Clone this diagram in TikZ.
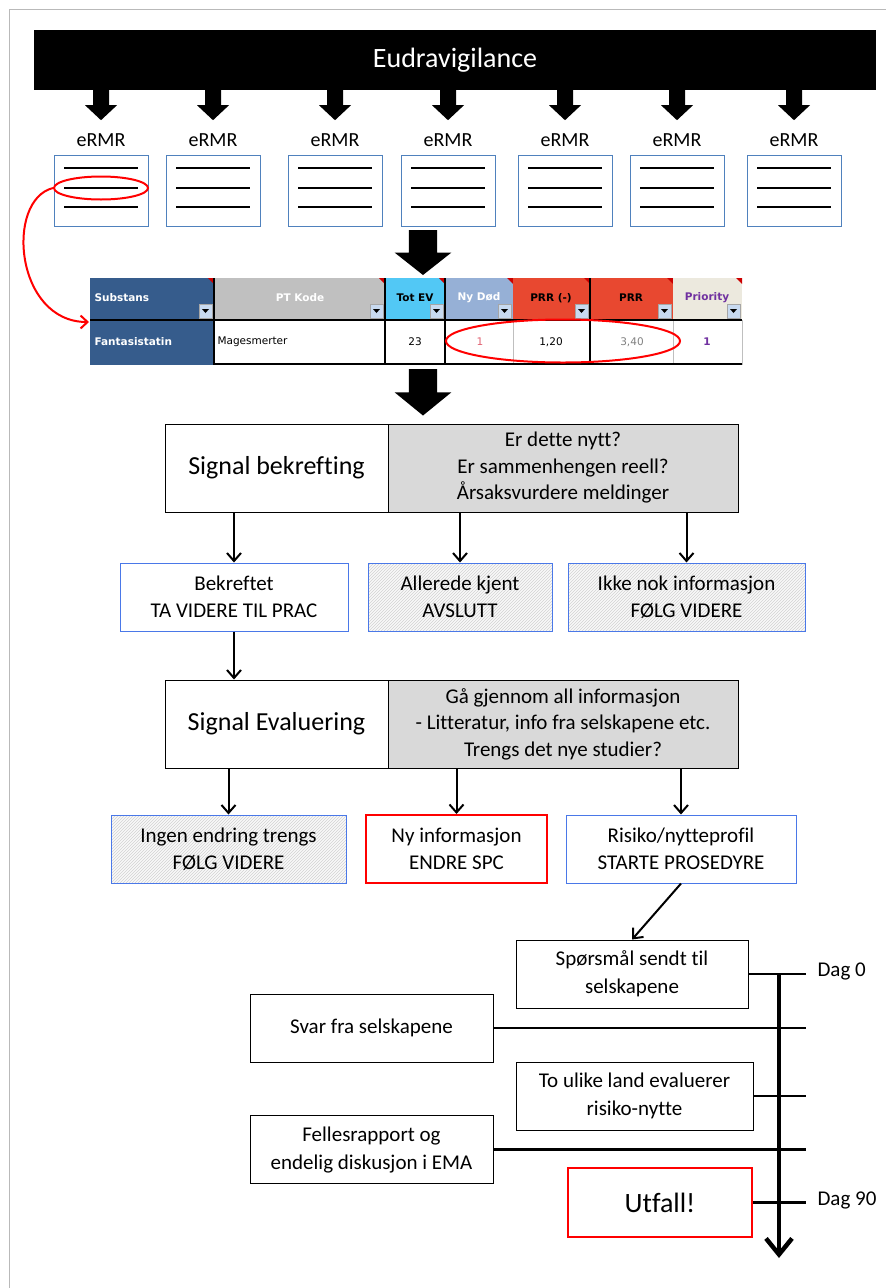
\documentclass[tikz,border=0pt]{standalone}
\usepackage{fontspec}
\setmainfont{Carlito}[Ligatures=NoCommon]
\newfontfamily\xlsfont{DejaVu Sans}
\usetikzlibrary{arrows.meta,patterns,shapes.geometric}

\definecolor{docblue}{RGB}{79,129,189}
\definecolor{boxblue}{RGB}{74,120,232}
\definecolor{qgray}{RGB}{217,217,217}
\definecolor{framegray}{RGB}{185,185,185}
\definecolor{xlsnavy}{RGB}{54,92,140}
\definecolor{xlsgray}{RGB}{192,192,192}
\definecolor{xlscyan}{RGB}{82,200,245}
\definecolor{xlsblue}{RGB}{150,176,214}
\definecolor{xlsred}{RGB}{232,72,48}
\definecolor{xlscream}{RGB}{236,233,222}
\definecolor{xlspurple}{RGB}{112,48,160}
\definecolor{xlspink}{RGB}{224,96,112}
\definecolor{ddblue}{RGB}{200,218,240}

\tikzset{
  banner/.style={fill=black, text=white, minimum width=842pt, minimum height=60pt,
    font=\fontsize{28}{32}\selectfont},
  blkarrow/.pic={\fill (-8,0) -- (-8,15) -- (-16,15) -- (0,30) -- (16,15) -- (8,15) -- (8,0) -- cycle;},
  doc/.style={draw=docblue, line width=1pt, minimum width=94pt, minimum height=71pt},
  docline/.style={line width=2.6pt},
  doclbl/.style={font=\fontsize{20}{24}\selectfont},
  ring/.style={ellipse, draw=red, line width=2pt, inner sep=0pt},
  xlshdr/.style={font=\xlsfont\bfseries\fontsize{10.5}{12}\selectfont},
  xlscell/.style={font=\xlsfont\fontsize{10.5}{12}\selectfont},
  title/.style={draw, line width=1pt, fill=white, minimum width=223pt, minimum height=88pt,
    font=\fontsize{26}{30}\selectfont},
  quest/.style={draw, line width=1pt, fill=qgray, minimum width=350pt, minimum height=88pt,
    align=center, font=\fontsize{21}{26.5}\selectfont},
  outbox/.style={draw=boxblue, line width=1pt, minimum height=68pt, align=center,
    font=\fontsize{21}{27}\selectfont},
  hatchbox/.style={outbox, preaction={fill=gray!5}, pattern=north east lines, pattern color=gray!35},
  redbox/.style={outbox, draw=red, line width=2pt},
  stepbox/.style={draw, line width=1pt, minimum height=68pt, align=center,
    font=\fontsize{21}{28}\selectfont},
  flow/.style={line width=2pt, -{Straight Barb[length=8pt,width=14pt]}},
  tick/.style={line width=2.6pt},
  dag/.style={anchor=west, font=\fontsize{21}{24}\selectfont}
}

\begin{document}
\begin{tikzpicture}[x=1pt,y=-1pt]
\useasboundingbox (0,0) rectangle (886,1288);
\draw[framegray, line width=1pt] (9.5,1300) -- (9.5,9.5) -- (900,9.5);

% source
\node[banner] (ev) at (455,60) {Eudravigilance};

% eRMR reports
\foreach \x [count=\i] in {101,213,335,448,565,677,794}{
  \node[doc] (doc\i) at (\x,191) {};
  \foreach \dy in {-23,-3,16}
    \draw[docline] (\x-37,191+\dy) -- (\x+37,191+\dy);
  \node[doclbl] (lbl\i) at (\x,140) {eRMR};
  \pic at (ev.south -| doc\i) {blkarrow};
}
\node[ring, minimum width=94pt, minimum height=23pt] (ring1) at (101,188) {};

\pic[xscale=1.78, yscale=1.5] at (423,230) {blkarrow};

% table
\foreach \xa/\xb/\col in {90/214/xlsnavy, 214/385/xlsgray, 385/445/xlscyan, 445/513/xlsblue,
    513/590/xlsred, 590/673/xlsred, 673/742/xlscream}{
  \fill[\col] (\xa,278) rectangle (\xb,319);
  \fill[red!80!black] (\xb-6,278) -- (\xb,278) -- (\xb,284) -- cycle;
  \draw[gray!70, fill=ddblue] (\xb-15,304) rectangle (\xb-2,318);
  \fill (\xb-12,309) -- (\xb-5,309) -- (\xb-8.5,313) -- cycle;
}
\fill[xlsnavy] (90,320) rectangle (214,365);
\foreach \x in {513,673,742}
  \draw[gray!50] (\x,320) -- (\x,365);
\draw[line width=2pt] (90,320) -- (742,320);
\draw[line width=1.5pt] (214,364) -- (742,364);
\foreach \x in {214,385,445,590}
  \draw[line width=1.8pt] (\x,278) -- (\x,365);

\node[xlshdr, text=white, anchor=west] (hsub) at (91,298) {Substans};
\node[xlshdr, text=white] (hpt) at (300,298) {PT Kode};
\node[xlshdr] (htot) at (415,298) {Tot EV};
\node[xlshdr, text=white] (hdod) at (479,298) {Ny Død};
\node[xlshdr] (hprrm) at (551,298) {PRR (-)};
\node[xlshdr] (hprr) at (631,298) {PRR};
\node[xlshdr, text=xlspurple] (hpri) at (707,298) {Priority};

\node[xlshdr, text=white, anchor=west] (fanta) at (91,342) {Fantasistatin};
\node[xlscell, anchor=west] (pt) at (214,342) {Magesmerter};
\node[xlscell] (tot) at (415,342) {23};
\node[xlscell, text=xlspink] (dod) at (480,342) {1};
\node[xlscell] (prrm) at (551,342) {1,20};
\node[xlscell, text=gray] (prr) at (632,342) {3,40};
\node[xlshdr, text=xlspurple] (pri) at (707,342) {1};

\node[ring, minimum width=234pt, minimum height=43pt] (ring2) at (563,341) {};
\coordinate (hit) at (89,322);
\draw[red, line width=2pt, -{Straight Barb[length=7pt,width=13pt]}]
  (ring1.west) .. controls (5,200) and (15,322) .. (hit);

\pic[xscale=1.78, yscale=1.55] at (423,369) {blkarrow};

% signal confirmation
\node[title] (sb) at (276.5,468) {Signal bekrefting};
\node[quest] (sbq) at (563,468) {Er dette nytt?\\Er sammenhengen reell?\\Årsaksvurdere meldinger};

\node[outbox, minimum width=228pt] (bek) at (234,597) {Bekreftet\\TA VIDERE TIL PRAC};
\node[hatchbox, minimum width=184pt] (kjent) at (460,597) {Allerede kjent\\AVSLUTT};
\node[hatchbox, minimum width=237pt] (ikke) at (686.5,597) {Ikke nok informasjon\\FØLG VIDERE};

\draw[flow] (sb.south -| bek.north) -- (bek.north);
\draw[flow] (sbq.south -| kjent.north) -- (kjent.north);
\draw[flow] (sbq.south -| ikke.north) -- (ikke.north);

% signal evaluation
\node[title] (se) at (276.5,724) {Signal Evaluering};
\node[quest] (seq) at (563,724) {Gå gjennom all informasjon\\- Litteratur, info fra selskapene etc.\\Trengs det nye studier?};
\draw[flow] (bek.south) -- (bek.south |- se.north);

\node[hatchbox, minimum width=235pt] (ingen) at (228.5,849) {Ingen endring trengs\\FØLG VIDERE};
\node[redbox, minimum width=181pt] (nyinfo) at (456.5,849) {Ny informasjon\\ENDRE SPC};
\node[outbox, minimum width=230pt] (risiko) at (681,849) {Risiko/nytteprofil\\STARTE PROSEDYRE};

\draw[flow] (se.south -| ingen.north) -- (ingen.north);
\draw[flow] (seq.south -| nyinfo.north) -- (nyinfo.north);
\draw[flow] (seq.south -| risiko.north) -- (risiko.north);

% procedure timeline
\node[stepbox, minimum width=232pt] (spm) at (632,974) {Spørsmål sendt til\\selskapene};
\node[stepbox, minimum width=243pt] (svar) at (371.5,1028) {Svar fra selskapene};
\node[stepbox, minimum width=237pt] (land) at (634.5,1096) {To ulike land evaluerer\\risiko-nytte};
\node[stepbox, minimum width=243pt] (felles) at (371.5,1149.5) {Fellesrapport og\\endelig diskusjon i EMA};
\node[redbox, minimum width=184pt, minimum height=69pt, font=\fontsize{28}{32}\selectfont] (utfall) at (660,1202.5) {Utfall!};

\draw[flow] (risiko.south) -- (spm.north);

\coordinate (t0) at (779,974);
\coordinate (tend) at (779,1258);
\coordinate (tx) at (806,0);
\draw[line width=4.5pt, -{Straight Barb[length=16pt,width=26pt]}] (t0) -- (tend);

\draw[tick] (spm.east) -- (spm.east -| tx);
\draw[tick] (svar.east) -- (svar.east -| tx);
\draw[tick] (land.east) -- (land.east -| tx);
\draw[tick] (felles.east) -- (felles.east -| tx);
\draw[tick] (utfall.east) -- (utfall.east -| tx);

\node[dag] (d0) at (814,971) {Dag 0};
\node[dag] (d90) at (814,1200) {Dag 90};
\end{tikzpicture}
\end{document}
